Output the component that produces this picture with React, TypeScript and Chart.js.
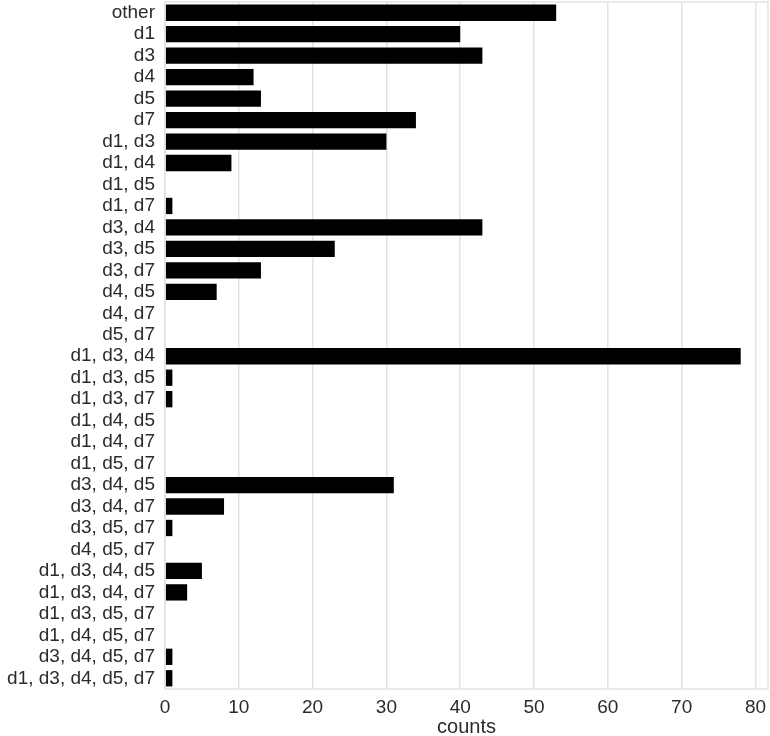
import React, { useEffect, useRef } from "react";
import { Chart, registerables } from "chart.js";

Chart.register(...registerables);

const categories: string[] = [
  "other", "d1", "d3", "d4", "d5", "d7",
  "d1, d3", "d1, d4", "d1, d5", "d1, d7",
  "d3, d4", "d3, d5", "d3, d7", "d4, d5", "d4, d7", "d5, d7",
  "d1, d3, d4", "d1, d3, d5", "d1, d3, d7", "d1, d4, d5", "d1, d4, d7", "d1, d5, d7",
  "d3, d4, d5", "d3, d4, d7", "d3, d5, d7", "d4, d5, d7",
  "d1, d3, d4, d5", "d1, d3, d4, d7", "d1, d3, d5, d7", "d1, d4, d5, d7", "d3, d4, d5, d7",
  "d1, d3, d4, d5, d7",
];

const counts: number[] = [
  53, 40, 43, 12, 13, 34,
  30, 9, 0, 1,
  43, 23, 13, 7, 0, 0,
  78, 1, 1, 0, 0, 0,
  31, 8, 1, 0,
  5, 3, 0, 0, 1,
  1,
];

const xTicks: number[] = [0, 10, 20, 30, 40, 50, 60, 70, 80];
const xLabel = "counts";

const FONT = "'Liberation Sans', Arial, sans-serif";
const TEXT = "#2b2b2b";
const GRID = "#e3e3e3";

const frame = {
  id: "frame",
  afterDraw(chart: any) {
    const { ctx, chartArea } = chart;
    ctx.save();
    ctx.strokeStyle = GRID;
    ctx.lineWidth = 1.5;
    ctx.strokeRect(chartArea.left, chartArea.top, chartArea.right - chartArea.left, chartArea.bottom - chartArea.top);
    ctx.restore();
  },
};

export default function App() {
  const ref = useRef<HTMLCanvasElement | null>(null);
  useEffect(() => {
    if (!ref.current) return;
    const chart = new Chart(ref.current, {
      type: "bar",
      data: {
        labels: categories,
        datasets: [
          {
            data: counts,
            backgroundColor: "#000000",
            borderWidth: 0,
            barPercentage: 0.76,
            categoryPercentage: 1.0,
          },
        ],
      },
      options: {
        indexAxis: "y",
        animation: false,
        responsive: false,
        maintainAspectRatio: false,
        layout: { padding: { top: 2, right: 2, left: 0, bottom: 0 } },
        plugins: { legend: { display: false }, tooltip: { enabled: false } },
        scales: {
          x: {
            min: 0,
            max: 81.7,
            afterBuildTicks: (scale: any) => {
              scale.ticks = xTicks.map((v) => ({ value: v }));
            },
            afterFit: (scale: any) => {
              scale.height = 47;
              scale.paddingLeft = 0;
              scale.paddingRight = 0;
            },
            grid: { color: GRID, lineWidth: 1.5, drawTicks: false },
            border: { display: false },
            ticks: {
              color: TEXT,
              font: { family: FONT, size: 19 },
              padding: 7,
              maxRotation: 0,
            },
            title: {
              display: true,
              text: xLabel,
              color: TEXT,
              font: { family: FONT, size: 20 },
              padding: { top: 0, bottom: -3 },
            },
          },
          y: {
            afterFit: (scale: any) => {
              scale.width = 165;
              scale.paddingTop = 0;
              scale.paddingBottom = 0;
            },
            grid: { display: false, drawTicks: false },
            border: { display: false },
            ticks: {
              color: TEXT,
              font: { family: FONT, size: 19 },
              padding: 10,
              autoSkip: false,
            },
          },
        },
      },
      plugins: [frame],
    });
    return () => chart.destroy();
  }, []);
  return (
    <div style={{ position: "absolute", left: 0, top: 0, width: 770, height: 736, background: "#fff" }}>
      <canvas ref={ref} width={770} height={736} style={{ width: 770, height: 736 }} />
    </div>
  );
}
